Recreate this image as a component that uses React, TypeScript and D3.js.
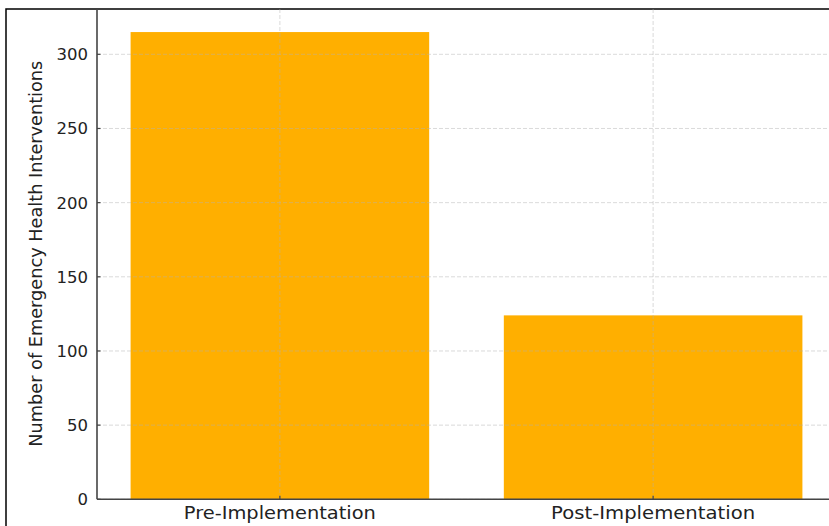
import React from "react";
import * as d3 from "d3";

const categories = ["Pre-Implementation", "Post-Implementation"];
const values = [315, 124];
const yTicks = [0, 50, 100, 150, 200, 250, 300];
const yLabel = "Number of Emergency Health Interventions";

export default function App() {
  const W = 829, H = 526;
  const left = 97, bottom = 499.3;
  const x = d3.scaleLinear().domain([-0.49, 1.49]).range([left, 836]);
  const y = d3.scaleLinear().domain([0, 330.75]).range([bottom, 8.7]);
  const bw = x(0.4) - x(0);
  const font = "DejaVu Sans, sans-serif";
  return (
    <svg width={W} height={H} style={{ position: "absolute", left: 0, top: 0, background: "#fff" }}>
      <rect x={6} y={9} width={900} height={600} fill="none" stroke="#000" strokeWidth={1.5} />
      {categories.map((c, i) => (
        <rect key={c} x={x(i) - bw} y={y(values[i])} width={bw * 2} height={bottom - y(values[i])} fill="#ffaf00" />
      ))}
      {yTicks.map((t) => (
        <line key={"g" + t} x1={left} x2={W} y1={y(t)} y2={y(t)} stroke="#b0b0b0" strokeOpacity={0.6} strokeDasharray="4,2" strokeWidth={0.8} />
      ))}
      {categories.map((c, i) => (
        <line key={"gv" + c} x1={x(i)} x2={x(i)} y1={9} y2={bottom} stroke="#b0b0b0" strokeOpacity={0.6} strokeDasharray="4,2" strokeWidth={0.8} />
      ))}
      <line x1={left} x2={left} y1={9} y2={bottom} stroke="#444" strokeWidth={1.6} />
      <line x1={left} x2={W} y1={bottom} y2={bottom} stroke="#444" strokeWidth={1.6} />
      {yTicks.map((t) => (
        <g key={"t" + t}>
          <line x1={left} x2={left + 3.5} y1={y(t)} y2={y(t)} stroke="#444" strokeWidth={1.2} />
          <text x={left - 9} y={y(t)} dy="0.36em" textAnchor="end" fontFamily={font} fontSize={16.5} fill="#222">{t}</text>
        </g>
      ))}
      {categories.map((c, i) => (
        <g key={"xt" + c}>
          <line x1={x(i)} x2={x(i)} y1={bottom} y2={bottom - 3.5} stroke="#444" strokeWidth={1.2} />
          <text x={x(i)} y={bottom + 20} textAnchor="middle" fontFamily={font} fontSize={17} fill="#222"
            textLength={c === "Pre-Implementation" ? 192 : 204} lengthAdjust="spacingAndGlyphs">{c}</text>
        </g>
      ))}
      <text transform={`translate(41.5,253.7) rotate(-90)`} textAnchor="middle" fontFamily={font} fontSize={18} fill="#222"
        textLength={386} lengthAdjust="spacingAndGlyphs">{yLabel}</text>
    </svg>
  );
}
